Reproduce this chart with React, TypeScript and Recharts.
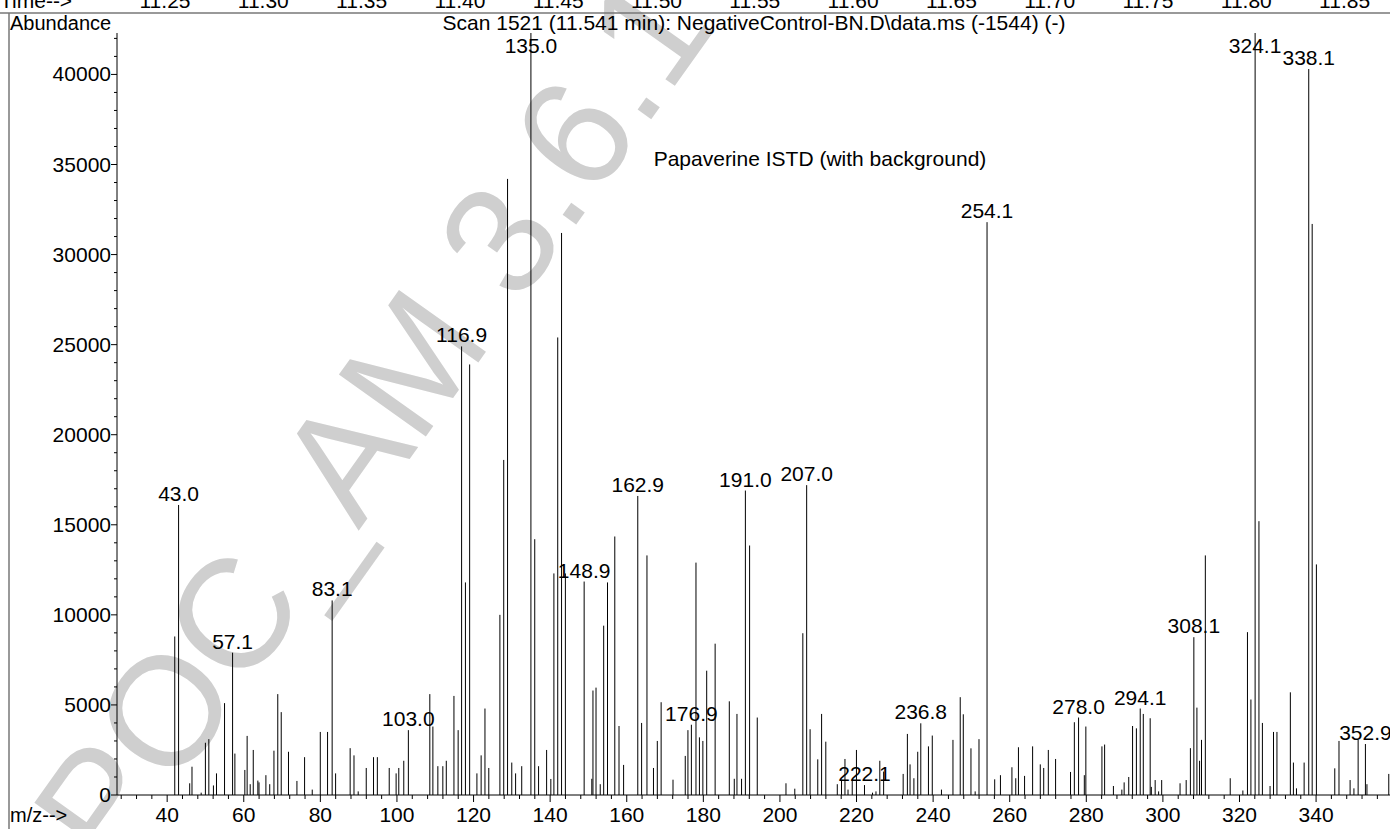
import { ComposedChart, Bar, XAxis, YAxis, LabelList } from 'recharts'

// m/z of each stick and its abundance (counts)
const mz = [
  42.0, 43.0, 45.9, 46.5, 48.9, 50.0, 50.9, 52.1, 52.9, 55.0, 57.1, 57.7, 60.3, 60.9, 61.7, 62.5,
  63.7, 64.0, 65.8, 66.8, 67.9, 68.9, 69.8, 71.7, 73.9, 75.9, 77.9, 80.0, 81.9, 83.1, 84.0, 87.8,
  88.8, 89.9, 92.0, 93.9, 94.9, 98.0, 99.8, 100.5, 101.8, 103.0, 108.6, 109.4, 110.7, 112.0, 112.9,
  114.9, 116.0, 116.9, 117.9, 119.0, 120.9, 122.0, 123.0, 124.0, 126.9, 127.9, 128.9, 130.0, 131.0,
  132.6, 135.0, 136.0, 137.0, 139.1, 140.2, 141.0, 142.0, 143.0, 144.0, 148.9, 150.9, 151.2, 152.0,
  153.1, 154.0, 155.0, 156.9, 158.0, 159.2, 162.9, 163.9, 165.3, 167.0, 168.0, 169.0, 172.1, 175.3,
  176.0, 176.9, 178.1, 179.0, 179.9, 180.9, 183.1, 186.8, 188.1, 188.8, 190.0, 191.0, 192.1, 194.1,
  201.6, 203.9, 206.0, 207.0, 207.9, 209.9, 210.9, 212.0, 215.0, 216.1, 217.0, 217.8, 218.9, 220.0,
  222.1, 224.2, 225.1, 226.1, 227.1, 232.2, 233.3, 234.0, 235.0, 236.0, 236.8, 238.8, 239.8, 242.2,
  245.2, 247.1, 247.9, 249.9, 251.0, 252.0, 254.1, 256.1, 257.6, 260.6, 261.6, 262.3, 263.9, 266.0,
  268.0, 268.9, 270.1, 272.0, 275.9, 276.9, 278.0, 279.5, 279.9, 284.1, 284.8, 287.1, 289.3, 289.9,
  291.1, 292.1, 293.1, 294.1, 294.9, 296.7, 297.0, 298.0, 298.9, 299.7, 304.5, 306.1, 307.2, 308.1,
  308.9, 309.6, 310.1, 311.1, 317.6, 320.9, 322.1, 323.0, 324.1, 325.1, 326.0, 328.0, 328.9, 329.8,
  333.3, 334.1, 334.9, 336.9, 338.1, 339.0, 340.1, 344.9, 346.0, 348.9, 349.9, 351.0, 352.9, 353.3,
  359.0,
]

const abundance = [
  8800, 16100, 650, 1570, 130, 2900, 3100, 530, 1200, 5100, 7900, 2300, 1390, 3280, 600, 2500,
  800, 700, 1100, 600, 2460, 5600, 4600, 2400, 780, 2100, 300, 3500, 3500, 10800, 1200, 2600,
  2200, 200, 1500, 2100, 2100, 1500, 1200, 1500, 1900, 3600, 5600, 3800, 1600, 1600, 1900,
  5500, 3600, 24900, 11800, 23900, 1200, 2200, 4800, 1500, 10000, 18600, 34200, 1800, 1200,
  1600, 42300, 14200, 1600, 2500, 890, 12300, 25400, 31200, 12300, 11850, 900, 5800, 5960,
  600, 9400, 11800, 14350, 3830, 1670, 16600, 4000, 13300, 1500, 3000, 5150, 850, 2170,
  3600, 3900, 12900, 3200, 3000, 6900, 8400, 5200, 900, 4500, 900, 16900, 13850, 4300,
  650, 350, 8980, 17200, 3650, 1980, 4500, 2960, 600, 800, 2000, 300, 800, 2500,
  550, 130, 200, 1900, 1300, 1170, 3390, 1700, 930, 2400, 3980, 2700, 3300, 300,
  3060, 5430, 4480, 2590, 200, 3100, 31800, 870, 1100, 1540, 930, 2650, 1060, 2700,
  1700, 1500, 2500, 2000, 1280, 4040, 4300, 1100, 3800, 2700, 2800, 500, 300, 700,
  1000, 3830, 3700, 4800, 4500, 4260, 450, 830, 200, 830, 650, 830, 2600, 8760,
  4850, 1900, 3060, 13300, 930, 250, 9040, 5300, 42300, 15200, 4000, 500, 3500, 3500,
  5700, 1800, 370, 1800, 40300, 31700, 12800, 1480, 3000, 830, 370, 3060, 2830, 600,
  1170,
]

// peaks that carry an m/z annotation
const labelledPeaks = [
  43.0, 57.1, 83.1, 103.0, 116.9, 135.0, 148.9, 162.9, 176.9, 191.0, 207.0, 222.1, 236.8,
  254.1, 278.0, 294.1, 308.1, 324.1, 338.1, 352.9,
]

const xMajorTicks = [40, 60, 80, 100, 120, 140, 160, 180, 200, 220, 240, 260, 280, 300, 320, 340]
const yMajorTicks = [0, 5000, 10000, 15000, 20000, 25000, 30000, 35000, 40000]
const timeTicks = ['11.25', '11.30', '11.35', '11.40', '11.45', '11.50', '11.55', '11.60', '11.65', '11.70', '11.75', '11.80', '11.85']

const xTicks = Array.from({ length: 83 }, (_, i) => 28 + i * 4)
const yTicks = Array.from({ length: 43 }, (_, i) => i * 1000)

const data = mz.map((m, i) => ({
  mz: m,
  abundance: abundance[i],
  label: labelledPeaks.includes(m) ? m.toFixed(1) : '',
}))

const FONT = '"Liberation Sans", Arial, Helvetica, sans-serif'
const margin = { top: 33, right: 0, bottom: 0, left: 57 }

const Stick = (props: any) => {
  const { x, y, width, height } = props
  if (!height) return null
  const cx = x + width / 2
  return <line x1={cx} x2={cx} y1={y} y2={y + height} stroke="#000" strokeWidth={1} />
}

const PeakLabel = (props: any) => {
  const { x, y, width, value } = props
  if (!value) return null
  const baseline = Math.max(y - 4, margin.top + 20)
  return (
    <text x={x + width / 2} y={baseline} textAnchor="middle" fontSize={21} fontFamily={FONT} fill="#000">
      {value}
    </text>
  )
}

const XTick = (props: any) => {
  const { x, y, payload } = props
  const major = xMajorTicks.includes(payload.value)
  return (
    <g>
      <line x1={x} x2={x} y1={y} y2={y + (major ? 7 : 4)} stroke="#000" />
      {major && (
        <text x={x} y={y + 27} textAnchor="middle" fontSize={21} fontFamily={FONT} fill="#000">
          {payload.value}
        </text>
      )}
    </g>
  )
}

const YTick = (props: any) => {
  const { x, y, payload } = props
  const major = yMajorTicks.includes(payload.value)
  return (
    <g>
      <line x1={x - (major ? 6 : 3)} x2={x} y1={y} y2={y} stroke="#000" />
      {major && (
        <text x={x - 6} y={y + 7} textAnchor="end" fontSize={21} fontFamily={FONT} fill="#000">
          {payload.value}
        </text>
      )}
    </g>
  )
}

export default function App() {
  return (
    <div style={{ position: 'absolute', left: 0, top: 0, width: 1390, height: 829, background: '#fff', overflow: 'hidden' }}>
      {/* watermark, frame and header texts */}
      <svg width={1390} height={829} style={{ position: 'absolute', left: 0, top: 0 }} fontFamily={FONT}>
        <text x={114} y={875} fontSize={155} fill="#cfcfcf" transform="rotate(-54.6 114 875)">
          POC_AM 3.6.1
        </text>
        <line x1={0} x2={1390} y1={13} y2={13} stroke="#777" strokeWidth={1.5} />
        <line x1={9} x2={9} y1={13} y2={829} stroke="#777" strokeWidth={1.5} />
        <text x={0} y={8} fontSize={21} fill="#000">Time--&gt;</text>
        {timeTicks.map((t, i) => (
          <text key={t} x={165 + i * 98.3} y={8} fontSize={21} textAnchor="middle" fill="#000">{t}</text>
        ))}
        <text x={10} y={30} fontSize={20} fill="#000">Abundance</text>
        <text x={754} y={30} fontSize={21} textAnchor="middle" fill="#000">
          Scan 1521 (11.541 min): NegativeControl-BN.D\data.ms (-1544) (-)
        </text>
        <text x={820} y={166} fontSize={21} textAnchor="middle" fill="#000">Papaverine ISTD (with background)</text>
        <text x={10} y={822} fontSize={20} fill="#000">m/z--&gt;</text>
      </svg>
      <div style={{ position: 'absolute', left: 0, top: 0 }}>
        <ComposedChart width={1390} height={829} data={data} margin={margin}>
          <XAxis
            dataKey="mz"
            type="number"
            domain={[26.9, 359.3]}
            allowDataOverflow
            ticks={xTicks}
            interval={0}
            height={34}
            tickSize={0}
            tickMargin={0}
            tickLine={false}
            tick={<XTick />}
            axisLine={{ stroke: '#000' }}
          />
          <YAxis
            type="number"
            domain={[0, 42300]}
            allowDataOverflow
            ticks={yTicks}
            interval={0}
            width={60}
            tickSize={0}
            tickMargin={0}
            tickLine={false}
            tick={<YTick />}
            axisLine={{ stroke: '#000' }}
          />
          <Bar dataKey="abundance" barSize={1} shape={<Stick />} isAnimationActive={false}>
            <LabelList dataKey="label" content={<PeakLabel />} />
          </Bar>
        </ComposedChart>
      </div>
    </div>
  )
}
